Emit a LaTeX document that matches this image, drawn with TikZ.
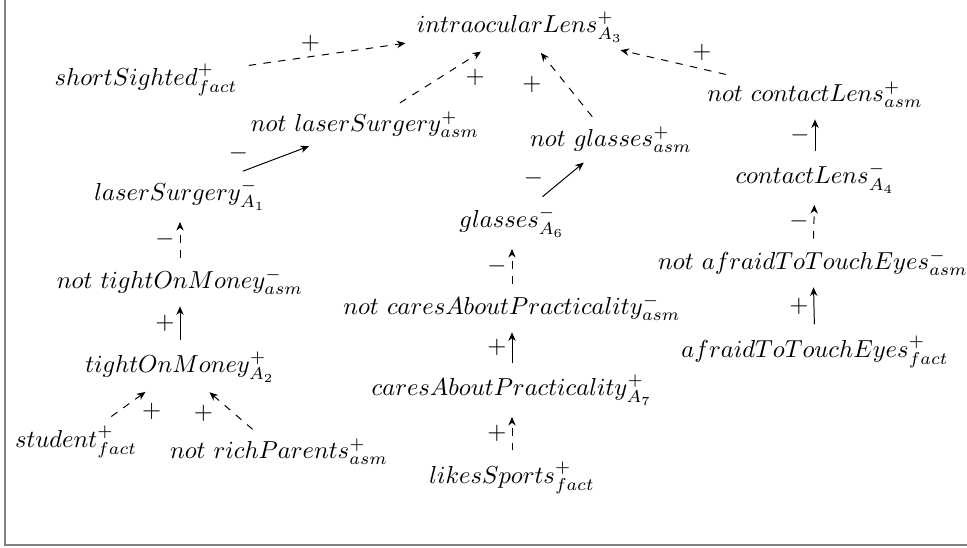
\documentclass[tikz,border=0pt]{standalone}
\usepackage{amsmath, amssymb}
\usetikzlibrary{positioning, arrows.meta}

\begin{document}
\begin{tikzpicture}[
    x=0.0143cm, y=-0.0143cm,
    lit/.style={inner sep=2.5pt},
    arrow/.style={-{Stealth[length=3.5pt, width=3pt]}, shorten >=2pt, shorten <=2pt},
    dasharrow/.style={arrow, dashed},
    sign/.style={inner sep=2pt}
  ]
  \useasboundingbox (0,0) rectangle (967,548);
  \draw[gray, line width=0.8pt] (5,0) -- (5,545) -- (967,545);

  % top
  \node[lit] (lens) at (520,27) {$intraocularLens^{+}_{A_3}$};
  \node[lit] (short) at (146,80) {$shortSighted^{+}_{fact}$};
  \node[lit] (nlaser) at (365,125) {$not\ laserSurgery^{+}_{asm}$};
  \node[lit] (nglasses) at (611,140) {$not\ glasses^{+}_{asm}$};
  \node[lit] (ncontact) at (815,95) {$not\ contactLens^{+}_{asm}$};

  % left column
  \node[lit] (laser) at (180,195) {$laserSurgery^{-}_{A_1}$};
  \node[lit] (ntight) at (180,282) {$not\ tightOnMoney^{-}_{asm}$};
  \node[lit] (tight) at (180,367) {$tightOnMoney^{+}_{A_2}$};
  \node[lit] (student) at (76,442) {$student^{+}_{fact}$};
  \node[lit] (nrich) at (279,452) {$not\ richParents^{+}_{asm}$};

  % middle column
  \node[lit] (glasses) at (512,222) {$glasses^{-}_{A_6}$};
  \node[lit] (ncares) at (512,308) {$not\ caresAboutPracticality^{-}_{asm}$};
  \node[lit] (cares) at (512,390) {$caresAboutPracticality^{+}_{A_7}$};
  \node[lit] (sports) at (512,478) {$likesSports^{+}_{fact}$};

  % right column
  \node[lit] (contact) at (815,178) {$contactLens^{-}_{A_4}$};
  \node[lit] (nafraid) at (813,263) {$not\ afraidToTouchEyes^{-}_{asm}$};
  \node[lit] (afraid) at (815,352) {$afraidToTouchEyes^{+}_{fact}$};

  % into the top
  \draw[dasharrow] (short) -- node[sign, pos=0.4, above] {$+$} (lens);
  \draw[dasharrow] (nlaser) -- node[sign, midway, right=8pt] {$+$} (lens);
  \draw[dasharrow] (nglasses) -- node[sign, midway, left=8pt] {$+$} (lens);
  \draw[dasharrow] (ncontact) -- node[sign, pos=0.25, above=1pt] {$+$} (lens);
  \draw[arrow] (laser) -- node[sign, pos=0.2, above left] {$-$} (nlaser);
  \draw[arrow] (glasses) -- node[sign, pos=0.2, above left] {$-$} (nglasses);
  \draw[arrow] (contact) -- node[sign, left] {$-$} (ncontact);

  % chains
  \draw[dasharrow] (ntight) -- node[sign, left] {$-$} (laser);
  \draw[arrow] (tight) -- node[sign, left] {$+$} (ntight);
  \draw[dasharrow] (student) -- node[sign, pos=0.7, below right] {$+$} (tight);
  \draw[dasharrow] (nrich) -- node[sign, pos=0.75, below left] {$+$} (tight);
  \draw[dasharrow] (ncares) -- node[sign, left] {$-$} (glasses);
  \draw[arrow] (cares) -- node[sign, left] {$+$} (ncares);
  \draw[dasharrow] (sports) -- node[sign, left] {$+$} (cares);
  \draw[dasharrow] (nafraid) -- node[sign, left] {$-$} (contact);
  \draw[arrow] (afraid) -- node[sign, left] {$+$} (nafraid);
\end{tikzpicture}
\end{document}
